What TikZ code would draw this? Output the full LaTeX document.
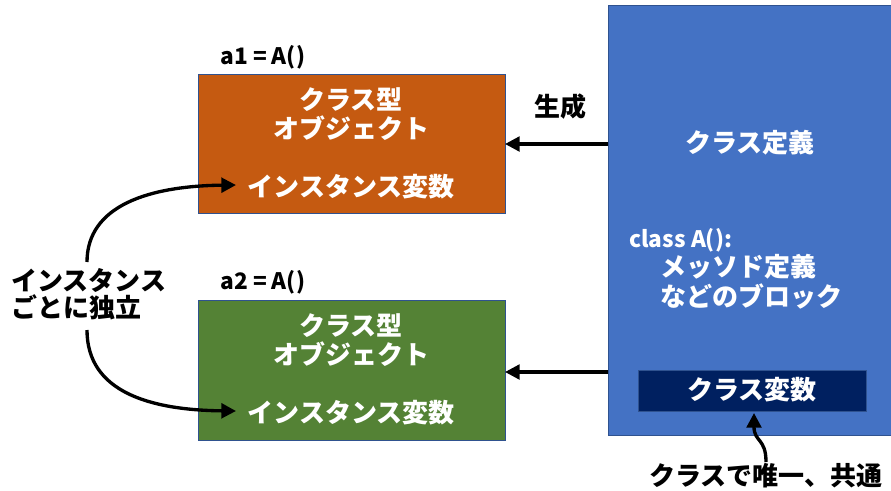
\documentclass[tikz,border=0pt]{standalone}
\usepackage{fontspec}
\setmainfont{Carlito}
\newfontfamily\jp{Noto Sans CJK JP}
\usetikzlibrary{arrows.meta}
\definecolor{orangeA}{HTML}{C55A11}
\definecolor{greenA}{HTML}{548235}
\definecolor{blueA}{HTML}{4472C4}
\definecolor{navyA}{HTML}{002060}
\definecolor{edgeA}{HTML}{2F528F}
\tikzset{
  box/.style={draw=edgeA, line width=0.6pt, inner sep=0pt},
  wt/.style={text=white, font=\fontsize{19.5}{22}\selectfont\bfseries\jp, inner sep=0pt},
  bt/.style={text=black, font=\fontsize{19.5}{22}\selectfont\bfseries\jp, inner sep=0pt},
  lt/.style={text=black, font=\fontsize{17}{22}\selectfont\jp\bfseries, inner sep=0pt},
  arr/.style={line width=2.5pt, -{Triangle[length=11pt,width=11pt]}},
}
\begin{document}
\begin{tikzpicture}[x=0.75pt,y=-0.75pt]
\useasboundingbox (0,0) rectangle (891,490);
% boxes
\path[box, fill=orangeA] (198,74) rectangle (505,213);
\coordinate (orE) at (505,144);
\path[box, fill=greenA] (198,300) rectangle (505,440);
\coordinate (grE) at (505,372);
\path[box, fill=blueA] (608,5) rectangle (893,435);
\coordinate (blW1) at (608,144);
\coordinate (blW2) at (608,372);
\path[box, fill=navyA] (638,370) rectangle (866,411);
\coordinate (navS) at (754,413);
% labels above boxes
\node[lt, anchor=west] (a1) at (220,57) {a1 = A()};
\node[lt, anchor=west] (a2) at (220,282) {a2 = A()};
% orange texts
\node[wt] (o1) at (351,100) {クラス型};
\node[wt] (o2) at (351,128) {オブジェクト};
\node[wt] (o3) at (351,187) {インスタンス変数};
% green texts
\node[wt] (g1) at (351,326) {クラス型};
\node[wt] (g2) at (351,354) {オブジェクト};
\node[wt] (g3) at (351,413) {インスタンス変数};
% blue texts
\node[wt] (b1) at (750,143) {クラス定義};
\node[wt, font=\fontsize{17}{22}\selectfont\jp\bfseries, anchor=west] (b2) at (629,240) {class A():};
\node[wt, anchor=west] (b3) at (660,267) {メッソド定義};
\node[wt, anchor=west] (b4) at (660,296) {などのブロック};
\node[wt] (n1) at (752,390) {クラス変数};
% other texts
\node[bt] (gen) at (560,107) {生成};
\node[bt] (uniq) at (766,476) {クラスで唯一、共通};
\node[bt, anchor=west] (ind1) at (11,280) {インスタンス};
\node[bt, anchor=west] (ind2) at (11,307) {ごとに独立};
% arrows
\draw[arr] (blW1) -- (orE);
\draw[arr] (blW2) -- (grE);
\coordinate (indT) at (87,262);
\coordinate (indB) at (87,330);
\coordinate (o3W) at (236,185);
\coordinate (g3W) at (236,411);
\draw[arr] (indT) .. controls (87,205) and (150,186) .. (o3W);
\draw[arr] (indB) .. controls (87,392) and (150,410) .. (g3W);
\coordinate (uniqN) at (766,462);
\draw[arr] (uniqN) .. controls (766,438) and (754,442) .. (navS);
\end{tikzpicture}
\end{document}
